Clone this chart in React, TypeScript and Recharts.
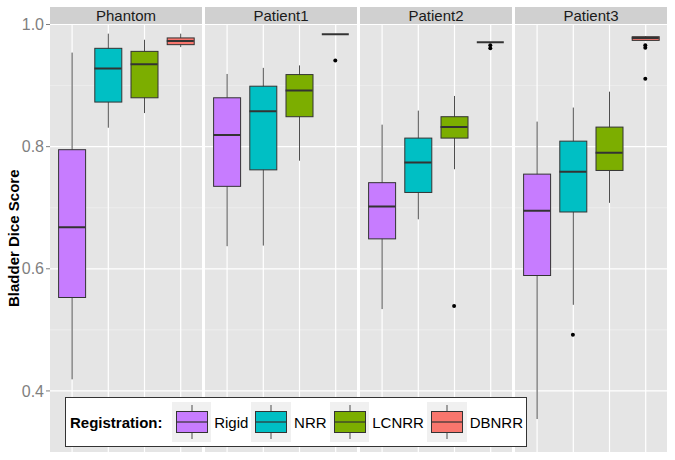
import React from "react";
import { ComposedChart, Bar, Scatter, XAxis, YAxis, CartesianGrid } from "recharts";

const FACETS = ["Phantom", "Patient1", "Patient2", "Patient3"];
const REGS = ["Rigid", "NRR", "LCNRR", "DBNRR"];
const COLORS = ["#C77CFF", "#00BFC4", "#7CAE00", "#F8766D"];

// [min, q1, median, q3, max] per registration
const PHANTOM = [
  [0.419, 0.553, 0.668, 0.795, 0.954],
  [0.831, 0.873, 0.928, 0.961, 0.985],
  [0.855, 0.88, 0.935, 0.956, 0.975],
  [0.963, 0.967, 0.973, 0.978, 0.985],
];
const PATIENT1 = [
  [0.637, 0.735, 0.819, 0.88, 0.919],
  [0.638, 0.762, 0.858, 0.899, 0.929],
  [0.777, 0.849, 0.892, 0.918, 0.933],
  [0.984, 0.984, 0.984, 0.984, 0.984],
];
const PATIENT2 = [
  [0.534, 0.649, 0.702, 0.741, 0.836],
  [0.681, 0.725, 0.774, 0.814, 0.859],
  [0.763, 0.814, 0.832, 0.849, 0.883],
  [0.971, 0.971, 0.971, 0.971, 0.971],
];
const PATIENT3 = [
  [0.354, 0.589, 0.695, 0.755, 0.841],
  [0.541, 0.693, 0.759, 0.809, 0.864],
  [0.708, 0.761, 0.79, 0.832, 0.89],
  [0.974, 0.974, 0.978, 0.98, 0.981],
];

// outliers per registration
const PHANTOM_OUT = [[], [], [], []];
const PATIENT1_OUT = [[], [], [], [0.941]];
const PATIENT2_OUT = [[], [], [0.539], [0.966, 0.961]];
const PATIENT3_OUT = [[], [0.492], [], [0.966, 0.962, 0.911]];

const Y_DOMAIN = [0.3, 1.0];
const MAJOR_TICKS = [0.4, 0.6, 0.8, 1.0];
const MINOR_TICKS = [0.3, 0.5, 0.7, 0.9];

const FONT = "'Liberation Sans', Arial, Helvetica, sans-serif";
const PANEL_W = 152;
const Y_W = 50;
const BOX_W = 27;
const PANEL_LEFT = [50, 205, 360, 515];

const buildRows = (stats: number[][], outs: number[][]) =>
  REGS.map((reg, i) => {
    const [min, q1, med, q3, max] = stats[i];
    const row: any = { reg, color: COLORS[i], min, q1, med, q3, max };
    outs[i].forEach((v, j) => {
      row[`o${j}`] = v;
    });
    return row;
  });

const FACET_ROWS = [
  buildRows(PHANTOM, PHANTOM_OUT),
  buildRows(PATIENT1, PATIENT1_OUT),
  buildRows(PATIENT2, PATIENT2_OUT),
  buildRows(PATIENT3, PATIENT3_OUT),
];

const ok = (...v: any[]) => v.every((n) => Number.isFinite(n));

// vertical white grid line at category centre (drawn as a full-range bar so it sits under the boxes)
const GridLine = (p: any) => {
  const { x, y, width, height } = p;
  if (!ok(x, y, width, height)) return null;
  const cx = x + width / 2;
  return <line x1={cx} x2={cx} y1={y} y2={y + height} stroke="#FFFFFF" strokeWidth={1.2} />;
};

const Whisker = (p: any) => {
  const { x, y, width, height } = p;
  if (!ok(x, y, width, height)) return null;
  const cx = x + width / 2;
  return <line x1={cx} x2={cx} y1={y} y2={y + height} stroke="#4d4d4d" strokeWidth={1} />;
};

const Box = (p: any) => {
  const { x, y, width, height, payload } = p;
  if (!ok(x, y, width, height)) return null;
  return (
    <rect
      x={x}
      y={Math.min(y, y + height)}
      width={width}
      height={Math.abs(height)}
      fill={payload?.color}
      stroke="#333333"
      strokeWidth={1}
    />
  );
};

const Median = (p: any) => {
  const { cx, cy } = p;
  if (!ok(cx, cy)) return null;
  return <line x1={cx - BOX_W / 2} x2={cx + BOX_W / 2} y1={cy} y2={cy} stroke="#333333" strokeWidth={2} />;
};

const Dot = (p: any) => {
  const { cx, cy } = p;
  if (!ok(cx, cy)) return null;
  return <circle cx={cx} cy={cy} r={2} fill="#000" />;
};

function Facet({ idx }: { idx: number }) {
  const showY = idx === 0;
  const width = showY ? PANEL_W + Y_W : PANEL_W;
  const rows = FACET_ROWS[idx];
  const pad = { left: 3.6, right: 3.6 };
  return (
    <div style={{ position: "absolute", left: showY ? PANEL_LEFT[idx] - Y_W : PANEL_LEFT[idx], top: 0 }}>
      <ComposedChart width={width} height={460} data={rows} margin={{ top: 24.5, right: 0, bottom: 8, left: 0 }}>
        <CartesianGrid
          xAxisId="b"
          fill="#E5E5E5"
          stroke="#F4F4F4"
          strokeWidth={0.6}
          vertical={false}
          horizontalValues={MINOR_TICKS}
        />
        <CartesianGrid xAxisId="b" stroke="#FFFFFF" strokeWidth={1.2} vertical={false} horizontalValues={MAJOR_TICKS} />
        <XAxis xAxisId="g" dataKey="reg" hide padding={pad} />
        <XAxis xAxisId="w" dataKey="reg" hide padding={pad} />
        <XAxis xAxisId="b" dataKey="reg" hide padding={pad} />
        <YAxis
          type="number"
          domain={Y_DOMAIN}
          allowDataOverflow
          ticks={MAJOR_TICKS}
          hide={!showY}
          width={Y_W}
          axisLine={false}
          tickSize={4}
          tickMargin={2}
          tickLine={{ stroke: "#7F7F7F" }}
          tick={{ fill: "#7F7F7F", fontSize: 16, fontFamily: FONT }}
          tickFormatter={(v: number) => v.toFixed(1)}
          label={
            showY
              ? {
                  value: "Bladder Dice Score",
                  angle: -90,
                  position: "insideLeft",
                  offset: 14,
                  style: { textAnchor: "middle", fontWeight: "bold", fontSize: 15, fill: "#000", fontFamily: FONT },
                }
              : undefined
          }
        />
        <Bar xAxisId="g" dataKey={() => Y_DOMAIN} barSize={BOX_W} shape={GridLine} isAnimationActive={false} />
        <Bar
          xAxisId="w"
          dataKey={(d: any) => [d.min, d.max]}
          barSize={BOX_W}
          shape={Whisker}
          isAnimationActive={false}
        />
        <Bar
          xAxisId="b"
          dataKey={(d: any) => [d.q1, d.q3]}
          barSize={BOX_W}
          shape={Box}
          isAnimationActive={false}
        />
        <Scatter xAxisId="b" dataKey="med" shape={Median} isAnimationActive={false} />
        <Scatter xAxisId="b" dataKey="o0" shape={Dot} isAnimationActive={false} />
        <Scatter xAxisId="b" dataKey="o1" shape={Dot} isAnimationActive={false} />
        <Scatter xAxisId="b" dataKey="o2" shape={Dot} isAnimationActive={false} />
      </ComposedChart>
    </div>
  );
}

function LegendKey({ color }: { color: string }) {
  return (
    <svg width={40} height={40} style={{ display: "block" }}>
      <rect x={0} y={0} width={40} height={40} fill="#F0F0F0" />
      <line x1={20} x2={20} y1={3} y2={37} stroke="#4d4d4d" strokeWidth={1} />
      <rect x={4.5} y={9.5} width={31} height={21} fill={color} stroke="#333333" strokeWidth={1} />
      <line x1={4.5} x2={35.5} y1={20} y2={20} stroke="#333333" strokeWidth={1.2} />
    </svg>
  );
}

export default function App() {
  return (
    <div style={{ position: "absolute", left: 0, top: 0, width: 675, height: 460, background: "#fff", fontFamily: FONT }}>
      {FACETS.map((f, i) => (
        <div
          key={f}
          style={{
            position: "absolute",
            left: PANEL_LEFT[i],
            top: 7,
            width: PANEL_W,
            height: 17.5,
            background: "#D0D0D0",
            color: "#1a1a1a",
            fontSize: 15,
            lineHeight: "17.5px",
            textAlign: "center",
          }}
        >
          {f}
        </div>
      ))}
      {FACETS.map((f, i) => (
        <Facet key={f} idx={i} />
      ))}
      <div
        style={{
          position: "absolute",
          left: 65,
          top: 397,
          width: 462,
          height: 50,
          boxSizing: "border-box",
          border: "1px solid #333",
          background: "#fff",
          display: "flex",
          alignItems: "center",
          fontSize: 15,
          color: "#000",
          whiteSpace: "nowrap",
        }}
      >
        <span style={{ fontWeight: "bold", marginLeft: 4, marginRight: 9 }}>Registration:</span>
        {REGS.map((r, i) => (
          <React.Fragment key={r}>
            <LegendKey color={COLORS[i]} />
            <span style={{ marginLeft: 3, marginRight: 3 }}>{r}</span>
          </React.Fragment>
        ))}
      </div>
    </div>
  );
}
